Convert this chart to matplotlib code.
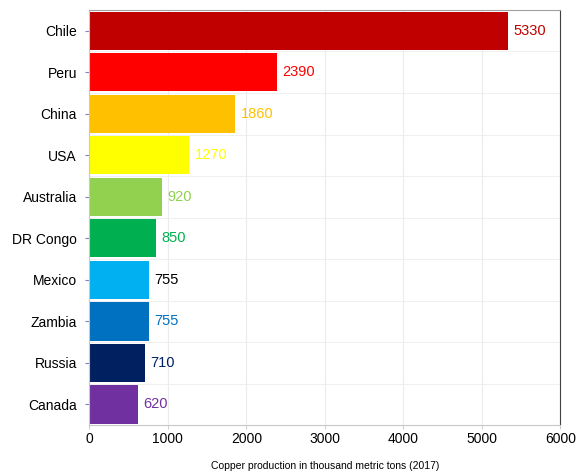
import matplotlib
matplotlib.use("Agg")
import matplotlib.pyplot as plt

countries = ["Chile", "Peru", "China", "USA", "Australia", "DR Congo",
             "Mexico", "Zambia", "Russia", "Canada"]
production = [5330, 2390, 1860, 1270, 920, 850, 755, 755, 710, 620]
bar_colors = ["#C00000", "#FF0000", "#FFC000", "#FFFF00", "#92D050",
              "#00B050", "#00B0F0", "#0070C0", "#002060", "#7030A0"]
label_colors = ["#C00000", "#FF0000", "#FFC000", "#FFFF00", "#92D050",
                "#00B050", "#000000", "#0070C0", "#002060", "#7030A0"]

plt.rcParams["font.family"] = ["Liberation Sans", "DejaVu Sans"]

fig = plt.figure(figsize=(5.77, 4.73), dpi=100)
ax = fig.add_axes([0.155, 0.101, 0.816, 0.878])

ypos = list(range(len(countries)))
ax.barh(ypos, production, height=0.92, color=bar_colors, zorder=2)

for y, v, c in zip(ypos, production, label_colors):
    ax.text(v + 70, y, str(v), va="center", ha="left", fontsize=10.5, color=c, zorder=3)

ax.set_xlim(0, 6000)
ax.set_ylim(len(countries) - 0.5, -0.5)
ax.set_xticks(range(0, 6001, 1000))
ax.set_yticks(ypos)
ax.set_yticklabels(countries, fontsize=10)
ax.tick_params(axis="x", labelsize=10, length=3, color="#d0d0d0", pad=2)
ax.tick_params(axis="y", length=3, color="#8080c0", pad=6)

# faint vertical grid plus separators between category bands
ax.grid(axis="x", color="#ececec", linewidth=0.8, zorder=0)
for b in range(1, len(countries)):
    ax.axhline(b - 0.5, color="#f0f0f0", linewidth=0.8, zorder=0)

ax.spines["top"].set_color("#a0a0a0")
ax.spines["bottom"].set_color("#c8c8c8")
ax.spines["left"].set_color("#c8c8c8")
ax.spines["right"].set_color("#404040")

ax.set_xlabel("Copper production in thousand metric tons (2017)", fontsize=7.5, labelpad=11)

fig.savefig("out.png", dpi=100)
